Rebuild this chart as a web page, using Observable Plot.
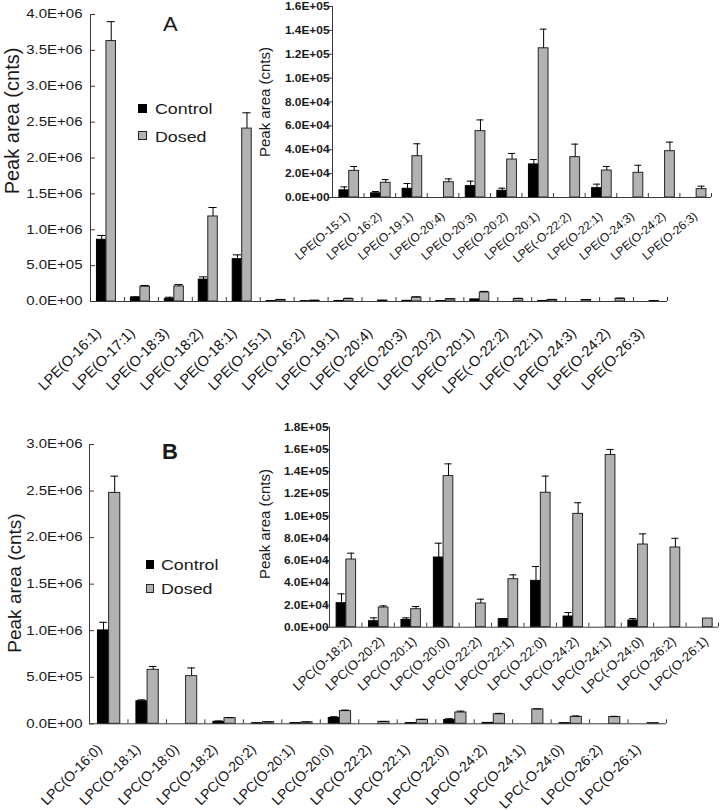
<!DOCTYPE html>
<html><head><meta charset="utf-8">
<script src="https://cdn.jsdelivr.net/npm/d3@7"></script>
<script src="https://cdn.jsdelivr.net/npm/@observablehq/plot@0.6"></script>
<style>
html,body{margin:0;padding:0;background:#fff;}
#wrap{position:relative;width:722px;height:811px;overflow:hidden;font-family:"Liberation Sans",Arial,sans-serif;color:#1a1a1a;}
#wrap svg{position:absolute;}
.lbl{position:absolute;white-space:nowrap;line-height:1;}
.ytitle{position:absolute;white-space:nowrap;line-height:1;transform:translate(-50%,-50%) rotate(-90deg);}
.sw{position:absolute;box-sizing:border-box;}
</style></head><body><div id="wrap"></div>
<script>
// ---------- Panel A (LPE) ----------
const catsA = ["LPE(O-16:1)","LPE(O-17:1)","LPE(O-18:3)","LPE(O-18:2)","LPE(O-18:1)","LPE(O-15:1)","LPE(O-16:2)","LPE(O-19:1)","LPE(O-20:4)","LPE(O-20:3)","LPE(O-20:2)","LPE(O-20:1)","LPE(-O-22:2)","LPE(O-22:1)","LPE(O-24:3)","LPE(O-24:2)","LPE(O-26:3)"];
const controlA   = [860000, 56000, 37000, 305000, 590000, 6000, 3500, 7300, 0, 9500, 5600, 27700, 0, 7800, 0, 0, 0];
const controlAsd = [60000, 8000, 22000, 38000, 60000, 2900, 1500, 4400, 0, 4200, 2200, 4100, 0, 3400, 0, 0, 0];
const dosedA     = [3630000, 205000, 210000, 1185000, 2410000, 22300, 12300, 34600, 12800, 55600, 31800, 125000, 33800, 22600, 20700, 38800, 7000];
const dosedAsd   = [270000, 19000, 26000, 125000, 220000, 3700, 2700, 10400, 2800, 9400, 5100, 16000, 10900, 3400, 6300, 7600, 2500];
const insetFromA = 5; // inset A shows categories from LPE(O-15:1) on
// ---------- Panel B (LPC) ----------
const catsB = ["LPC(O-16:0)","LPC(O-18:1)","LPC(O-18:0)","LPC(O-18:2)","LPC(O-20:2)","LPC(O-20:1)","LPC(O-20:0)","LPC(O-22:2)","LPC(O-22:1)","LPC(O-22:0)","LPC(O-24:2)","LPC(O-24:1)","LPC(-O-24:0)","LPC(O-26:2)","LPC(O-26:1)"];
const controlB   = [1003000, 242000, 0, 21600, 5400, 6600, 62700, 0, 7200, 41700, 9600, 0, 6000, 0, 0];
const controlBsd = [87000, 15000, 0, 8400, 3000, 1800, 12900, 0, 600, 12900, 3600, 0, 1800, 0, 0];
const dosedB     = [2480000, 580000, 512000, 60900, 17700, 16200, 136000, 21300, 43200, 121000, 102000, 155000, 74400, 71700, 7800];
const dosedBsd   = [180000, 36000, 88000, 5700, 1500, 2400, 11000, 3900, 3900, 15000, 10000, 5000, 9600, 8300, 0];
const insetFromB = 3; // inset B shows categories from LPC(O-18:2) on
const seriesNames = ["Control","Dosed"];
const yTitle = "Peak area (cnts)";

const FONT = "Liberation Sans, Arial, sans-serif";
const wrap = document.getElementById("wrap");

function sci(d){
  const [m,e] = d.toExponential(1).split("e");
  return m + "E" + e[0] + e.slice(1).padStart(2,"0");
}

function panel(cfg){
  const N = cfg.cats.length;
  const rows = cfg.cats.map((c,i)=>({i, c, ctrl: cfg.ctrl[i], ctrlSd: cfg.ctrlSd[i], dosed: cfg.dosed[i], dosedSd: cfg.dosedSd[i]}));
  const [o0,o1,o2] = cfg.off;
  const cC = (o0+o1)/2, cD = (o1+o2)/2, h = cfg.cap;
  const ce = rows.filter(d=>d.ctrlSd>0), de = rows.filter(d=>d.dosedSd>0);
  const yTicks = d3.range(0, cfg.yMax + cfg.yStep/2, cfg.yStep);
  const axisColor = "#3a3a3a";
  const svg = Plot.plot({
    width: cfg.width, height: cfg.height,
    marginLeft: cfg.mL, marginRight: cfg.mR, marginTop: cfg.mT, marginBottom: cfg.mB,
    style: {background:"transparent", fontFamily: FONT, overflow:"visible", color:"#1a1a1a"},
    x: {type:"linear", domain:[0,N], axis:null},
    y: {domain:[0,cfg.yMax], axis:null},
    marks: [
      Plot.rect(rows.filter(d=>d.ctrl>0), {x1: d=>d.i+o0, x2: d=>d.i+o1, y1: 0, y2: "ctrl", fill:"#000", stroke:"#000", strokeWidth:1}),
      Plot.rect(rows.filter(d=>d.dosed>0), {x1: d=>d.i+o1, x2: d=>d.i+o2, y1: 0, y2: "dosed", fill:"#b2b2b2", stroke:"#262626", strokeWidth:1}),
      Plot.ruleX(ce, {x: d=>d.i+cC, y1: "ctrl", y2: d=>d.ctrl+d.ctrlSd, stroke:"#000", strokeWidth:1}),
      Plot.ruleY(ce, {y: d=>d.ctrl+d.ctrlSd, x1: d=>d.i+cC-h, x2: d=>d.i+cC+h, stroke:"#000", strokeWidth:1}),
      Plot.ruleX(de, {x: d=>d.i+cD, y1: "dosed", y2: d=>d.dosed+d.dosedSd, stroke:"#000", strokeWidth:1}),
      Plot.ruleY(de, {y: d=>d.dosed+d.dosedSd, x1: d=>d.i+cD-h, x2: d=>d.i+cD+h, stroke:"#000", strokeWidth:1}),
      // axis lines
      Plot.ruleY([0], {stroke: axisColor, strokeWidth:1}),
      Plot.ruleX([0], {stroke: axisColor, strokeWidth:1}),
      // category boundary ticks (inward)
      Plot.ruleX(d3.range(1, N+1), {x: d=>d, y1: 0, y2: 0, insetBottom: 4, stroke: axisColor}),
      // y ticks
      cfg.inward
        ? Plot.ruleY(yTicks, {y: d=>d, x1: 0, x2: 0, insetLeft: 5, stroke: axisColor})
        : Plot.ruleY(yTicks, {y: d=>d, x1: 0, x2: 0, insetRight: 4, stroke: axisColor}),
      Plot.axisY({anchor:"left", ticks: yTicks, tickFormat: sci, tickSize: 0, tickPadding: cfg.yPad, fontSize: cfg.yFont, fontWeight: cfg.yWeight, label: null, fill:"#1a1a1a"}),
      Plot.axisX({anchor:"bottom", ticks: rows.map(d=>d.i+0.5), tickFormat: v=>cfg.cats[Math.floor(v)], tickSize: 0, tickPadding: cfg.xPad, tickRotate: cfg.rot, textAnchor: "end", lineAnchor: "middle", dx: cfg.xdx, fontSize: cfg.xFont, label: null, fill:"#111"})
    ]
  });
  svg.style.left = cfg.left + "px";
  svg.style.top = cfg.top + "px";
  svg.style.width = cfg.width + "px";
  svg.style.maxWidth = "none";
  wrap.appendChild(svg);
  if (cfg.stretch) {
    svg.querySelectorAll('g[aria-label="y-axis tick label"] text').forEach(t=>{
      const L = t.getComputedTextLength();
      t.setAttribute("textLength", (L*cfg.stretch).toFixed(1));
      t.setAttribute("lengthAdjust", "spacingAndGlyphs");
    });
  }
  return svg;
}

// Main A
panel({cats: catsA, ctrl: controlA, ctrlSd: controlAsd, dosed: dosedA, dosedSd: dosedAsd,
  yMax: 4000000, yStep: 500000, left: 0, top: 0, width: 722, height: 400,
  mL: 90, mR: 55, mT: 14, mB: 99, off: [0.19, 0.47, 0.75], cap: 0.12, inward: true,
  yPad: 8, yFont: 12, yWeight: "normal", stretch: 1.25, xPad: 29, rot: -45, xdx: -9, xFont: 14.5});
// Inset A
panel({cats: catsA.slice(insetFromA), ctrl: controlA.slice(insetFromA), ctrlSd: controlAsd.slice(insetFromA),
  dosed: dosedA.slice(insetFromA), dosedSd: dosedAsd.slice(insetFromA),
  yMax: 160000, yStep: 20000, left: 250, top: 0, width: 472, height: 270,
  mL: 82, mR: 11, mT: 6, mB: 73, off: [0.22, 0.53, 0.84], cap: 0.11, inward: false,
  yPad: 3, yFont: 11, yWeight: "bold", stretch: 1.08, xPad: 17, rot: -40, xdx: 0, xFont: 12});
// Main B
panel({cats: catsB, ctrl: controlB, ctrlSd: controlBsd, dosed: dosedB, dosedSd: dosedBsd,
  yMax: 3000000, yStep: 500000, left: 0, top: 400, width: 722, height: 411,
  mL: 89, mR: 56, mT: 44, mB: 87.7, off: [0.22, 0.51, 0.80], cap: 0.1, inward: true,
  yPad: 7, yFont: 12, yWeight: "normal", stretch: 1.25, xPad: 23, rot: -45, xdx: -9, xFont: 14});
// Inset B
panel({cats: catsB.slice(insetFromB), ctrl: controlB.slice(insetFromB), ctrlSd: controlBsd.slice(insetFromB),
  dosed: dosedB.slice(insetFromB), dosedSd: dosedBsd.slice(insetFromB),
  yMax: 180000, yStep: 20000, left: 250, top: 410, width: 472, height: 280,
  mL: 79, mR: 4, mT: 16.7, mB: 63.3, off: [0.22, 0.52, 0.82], cap: 0.11, inward: false,
  yPad: 1, yFont: 11, yWeight: "bold", stretch: 1.08, xPad: 12, rot: -42, xdx: 4, xFont: 13});

// ---------- text overlays ----------
function addText(txt, left, top, size, weight, extra){
  const d = document.createElement("div");
  d.className = "lbl"; d.textContent = txt;
  d.style.left = left+"px"; d.style.top = top+"px"; d.style.fontSize = size+"px";
  if (weight) d.style.fontWeight = weight;
  if (extra) Object.assign(d.style, extra);
  wrap.appendChild(d); return d;
}
function addTitle(txt, cx, cy, size){
  const d = document.createElement("div");
  d.className = "ytitle"; d.textContent = txt;
  d.style.left = cx+"px"; d.style.top = cy+"px"; d.style.fontSize = size+"px";
  wrap.appendChild(d);
}
function addSwatch(left, top, w, h, fill, stroke){
  const d = document.createElement("div");
  d.className = "sw";
  Object.assign(d.style, {left:left+"px", top:top+"px", width:w+"px", height:h+"px", background:fill, border:"1px solid "+stroke});
  wrap.appendChild(d);
}
const stretchX = {transform:"scaleX(1.15)", transformOrigin:"left center"};

addTitle(yTitle, 12, 121, 20);
addTitle(yTitle, 264, 102, 15);
addTitle(yTitle, 14, 583, 19);
addTitle(yTitle, 263.5, 524, 15);

addText("A", 163, 14, 20, "normal", {transform:"scaleX(1.1)", transformOrigin:"left center"});
addText("B", 162, 440.5, 22, "bold");

// legend A
addSwatch(138, 104, 9, 9, "#000", "#000");
addText(seriesNames[0], 155, 101, 15.5, "normal", stretchX);
addSwatch(138, 131, 9, 9, "#b2b2b2", "#262626");
addText(seriesNames[1], 155, 128.5, 15.5, "normal", stretchX);
// legend B
addSwatch(146, 560, 8, 9, "#000", "#000");
addText(seriesNames[0], 161, 556.5, 15.5, "normal", stretchX);
addSwatch(146, 584, 8, 9, "#b2b2b2", "#262626");
addText(seriesNames[1], 161, 580.5, 15.5, "normal", stretchX);
</script></body></html>
